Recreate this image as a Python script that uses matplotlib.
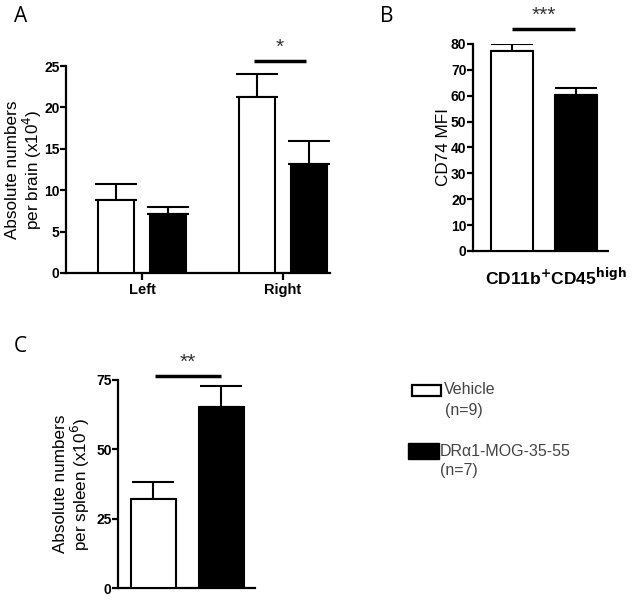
import matplotlib
matplotlib.use('Agg')
import matplotlib.pyplot as plt
from matplotlib.patches import Rectangle

plt.rcParams.update({
    "font.family": "sans-serif",
    "font.sans-serif": ["Liberation Sans", "DejaVu Sans"],
    "axes.linewidth": 1.6,
})

# panel A: brain, per hemisphere
groups_a = ['Left', 'Right']
vehicle_a = [8.8, 21.2]
vehicle_a_err = [1.9, 2.8]
drmog_a = [7.1, 13.2]
drmog_a_err = [0.85, 2.7]

# panel B: CD74 MFI
vehicle_b = 77.2
vehicle_b_err = 2.9
drmog_b = 60.4
drmog_b_err = 2.4

# panel C: spleen
vehicle_c = 32.2
vehicle_c_err = 6.1
drmog_c = 65.1
drmog_c_err = 7.8

legend_labels = ['Vehicle', '(n=9)', 'DR\u03b11-MOG-35-55', '(n=7)']

EDGE = 1.5
CAP = 15
ERR_KW = dict(ecolor='black', elinewidth=1.5, capsize=CAP, capthick=1.5)
YLAB = 12.3


def style_axis(ax, ymax, yticks):
    for side in ['top', 'right']:
        ax.spines[side].set_visible(False)
    ax.set_ylim(0, ymax)
    ax.set_yticks(yticks)
    ax.tick_params(axis='y', direction='out', length=4, width=1.6, labelsize=10, pad=0.5)
    for lab in ax.get_yticklabels():
        lab.set_fontweight('bold')


def bar_pair(ax, xs, vals, errs, color):
    ax.bar(xs, vals, width=WIDTH, color=color, edgecolor='black', linewidth=EDGE, zorder=3)
    ax.errorbar(xs, vals, yerr=[[0] * len(vals), errs], fmt='none', zorder=2, **ERR_KW)


def sig(ax, x0, x1, y, ytext, stars):
    ax.plot([x0, x1], [y, y], color='black', lw=2.5, clip_on=False, solid_capstyle='butt')
    ax.text((x0 + x1) / 2, ytext, stars, ha='center', va='center', fontsize=15, color='#333333')


fig = plt.figure(figsize=(6.32, 6.0), dpi=100)

# ---- A ----
WIDTH = 0.255
off = 0.185
ax_a = fig.add_axes([0.1044, 0.545, 0.4177, 0.345])
xs = list(range(len(groups_a)))
bar_pair(ax_a, [x - off for x in xs], vehicle_a, vehicle_a_err, 'white')
bar_pair(ax_a, [x + off for x in xs], drmog_a, drmog_a_err, 'black')
ax_a.set_xlim(-0.54, 1.333)
ax_a.set_xticks(xs)
ax_a.set_xticklabels(groups_a, fontweight='bold', fontsize=10.5)
ax_a.tick_params(axis='x', direction='out', length=5, width=1.6, pad=2)
style_axis(ax_a, 25, [0, 5, 10, 15, 20, 25])
ax_a.set_ylabel('Absolute numbers\nper brain (x10$^4$)', fontsize=YLAB, labelpad=0.5, linespacing=1.05)
sig(ax_a, 0.794, 1.163, 25.6, 27.3, '*')

# ---- B ----
WIDTH = 0.65
ax_b = fig.add_axes([0.748, 0.5817, 0.2136, 0.345])
bar_pair(ax_b, [0], [vehicle_b], [vehicle_b_err], 'white')
bar_pair(ax_b, [1], [drmog_b], [drmog_b_err], 'black')
ax_b.set_xlim(-0.605, 1.488)
ax_b.set_xticks([])
style_axis(ax_b, 80, list(range(0, 81, 10)))
ax_b.set_ylabel('CD74 MFI', fontsize=YLAB, labelpad=0)
ax_b.set_xlabel('CD11b$^{\\mathbf{+}}$CD45$^{\\mathbf{high}}$', fontsize=12.5, fontweight='bold')
ax_b.xaxis.set_label_coords(0.615, -0.076)
sig(ax_b, 0.0, 0.98, 85.8, 91.0, '***')

# ---- C ----
WIDTH = 0.66
ax_c = fig.add_axes([0.1867, 0.02, 0.2168, 0.3467])
bar_pair(ax_c, [0], [vehicle_c], [vehicle_c_err], 'white')
bar_pair(ax_c, [1], [drmog_c], [drmog_c_err], 'black')
ax_c.set_xlim(-0.522, 1.493)
ax_c.set_xticks([])
style_axis(ax_c, 75, [0, 25, 50, 75])
ax_c.set_ylabel('Absolute numbers\nper spleen (x10$^6$)', fontsize=YLAB, labelpad=3, linespacing=1.05)
sig(ax_c, 0.02, 1.0, 76.6, 81.5, '**')

# panel letters
for lab, x, y in [('A', 0.032, 0.972), ('B', 0.612, 0.972), ('C', 0.032, 0.423)]:
    fig.text(x, y, lab, fontsize=15, ha='center', va='center', family='Open Sans')

# legend, drawn by hand so the box sits next to the first line
fig.patches.append(Rectangle((412 / 632, 1 - 396 / 600), 29 / 632, 11 / 600,
                             transform=fig.transFigure, facecolor='white',
                             edgecolor='black', linewidth=1.6))
fig.patches.append(Rectangle((408 / 632, 1 - 459 / 600), 31 / 632, 16 / 600,
                             transform=fig.transFigure, facecolor='black',
                             edgecolor='black', linewidth=1.0))
leg_pos = [(444, 390), (445, 411), (440, 452), (440, 471)]
for text, (px, py) in zip(legend_labels, leg_pos):
    fig.text(px / 632, 1 - py / 600, text, fontsize=11.5, color='#444444', ha='left', va='center')

fig.savefig('out.png', dpi=100)
